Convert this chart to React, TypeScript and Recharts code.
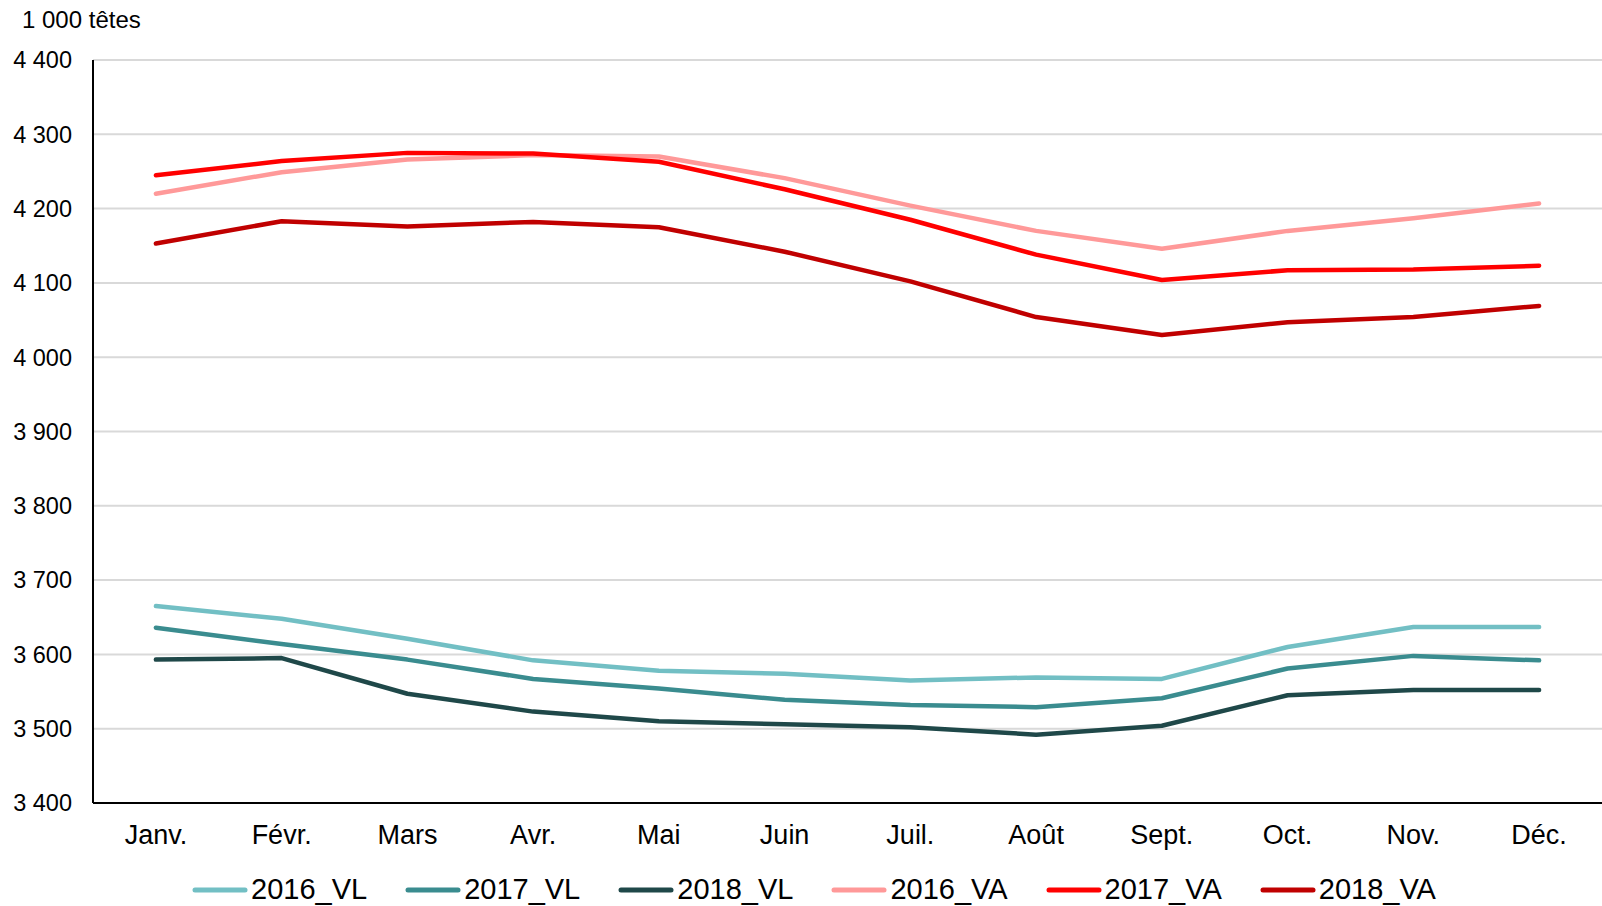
import React from 'react';
import { LineChart, Line, XAxis, YAxis, CartesianGrid, Legend } from 'recharts';

const months = ['Janv.', 'Févr.', 'Mars', 'Avr.', 'Mai', 'Juin', 'Juil.', 'Août', 'Sept.', 'Oct.', 'Nov.', 'Déc.'];
const vl2016 = [3665, 3648, 3621, 3592, 3578, 3574, 3565, 3569, 3567, 3610, 3637, 3637];
const vl2017 = [3636, 3614, 3593, 3567, 3554, 3539, 3532, 3529, 3541, 3581, 3598, 3592];
const vl2018 = [3593, 3595, 3547, 3523, 3510, 3506, 3502, 3492, 3504, 3545, 3552, 3552];
const va2016 = [4220, 4249, 4266, 4272, 4270, 4241, 4204, 4170, 4146, 4170, 4187, 4207];
const va2017 = [4245, 4264, 4275, 4274, 4263, 4226, 4185, 4138, 4104, 4117, 4118, 4123];
const va2018 = [4153, 4183, 4176, 4182, 4175, 4142, 4102, 4054, 4030, 4047, 4054, 4069];
const yTicks = [3400, 3500, 3600, 3700, 3800, 3900, 4000, 4100, 4200, 4300, 4400];

const seriesDefs = [
  { key: '2016_VL', values: vl2016, color: '#72BFC4' },
  { key: '2017_VL', values: vl2017, color: '#3A8C8F' },
  { key: '2018_VL', values: vl2018, color: '#1F4849' },
  { key: '2016_VA', values: va2016, color: '#FF9999' },
  { key: '2017_VA', values: va2017, color: '#FF0000' },
  { key: '2018_VA', values: va2018, color: '#C00000' },
];

const data = months.map((m, i) => {
  const row: Record<string, string | number> = { month: m };
  seriesDefs.forEach((s) => {
    row[s.key] = s.values[i];
  });
  return row;
});

const FONT = '"Liberation Sans", Arial, sans-serif';

const fmt = (v: number) => {
  const s = String(v);
  return s.length > 3 ? s.slice(0, s.length - 3) + ' ' + s.slice(-3) : s;
};

const renderLegend = () => (
  <div
    style={{
      display: 'flex',
      alignItems: 'center',
      height: 36,
      paddingLeft: 192,
      fontFamily: FONT,
      fontSize: 29,
      color: '#000',
      lineHeight: '36px',
    }}
  >
    {seriesDefs.map((s) => (
      <div key={s.key} style={{ display: 'flex', alignItems: 'center', marginRight: 38 }}>
        <svg width={56} height={10} style={{ marginRight: 3, marginTop: 2 }}>
          <line x1={3} y1={5} x2={53} y2={5} stroke={s.color} strokeWidth={5} strokeLinecap="round" />
        </svg>
        <span>{s.key}</span>
      </div>
    ))}
  </div>
);

export default function App() {
  return (
    <div style={{ position: 'absolute', left: 0, top: 0, width: 1602, height: 906, background: '#fff', overflow: 'hidden' }}>
      <div
        style={{
          position: 'absolute',
          left: 22,
          top: 8,
          fontFamily: FONT,
          fontSize: 24,
          lineHeight: 1,
          color: '#000',
          whiteSpace: 'nowrap',
        }}
      >
        1 000 têtes
      </div>
      <LineChart
        width={1602}
        height={906}
        data={data}
        margin={{ top: 60, right: 0, left: 0, bottom: 17 }}
      >
        <CartesianGrid horizontal={true} vertical={false} stroke="#D9D9D9" strokeWidth={2} />
        <XAxis
          dataKey="month"
          height={50}
          padding={{ left: 62.9, right: 62.9 }}
          tickLine={false}
          tickSize={0}
          tickMargin={22}
          axisLine={{ stroke: '#000', strokeWidth: 2 }}
          tick={{ fill: '#000', fontSize: 27, fontFamily: FONT }}
          interval={0}
        />
        <YAxis
          width={93}
          domain={[3400, 4400]}
          ticks={yTicks}
          interval={0}
          tickFormatter={fmt}
          tickLine={false}
          tickSize={0}
          tickMargin={21}
          axisLine={{ stroke: '#000', strokeWidth: 2 }}
          tick={{ fill: '#000', fontSize: 23.5, fontFamily: FONT }}
        />
        <Legend
          verticalAlign="bottom"
          content={renderLegend}
          wrapperStyle={{ top: 871, left: 0, bottom: 'auto', width: 1602, height: 36 }}
        />
        {seriesDefs.map((s) => (
          <Line
            key={s.key}
            dataKey={s.key}
            stroke={s.color}
            strokeWidth={4.5}
            strokeLinecap="round"
            strokeLinejoin="round"
            dot={false}
            activeDot={false}
            isAnimationActive={false}
          />
        ))}
      </LineChart>
    </div>
  );
}
